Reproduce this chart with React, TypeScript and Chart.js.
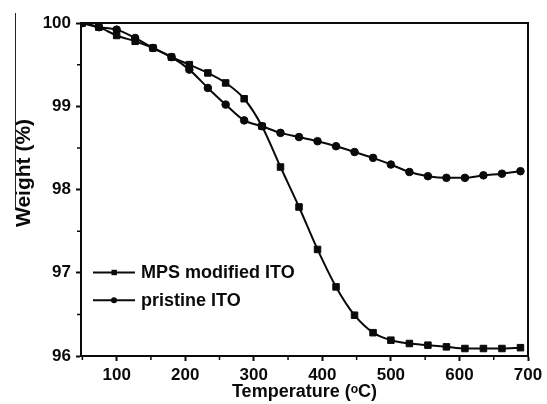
import React, { useEffect, useRef } from 'react';
import { Chart, registerables } from 'chart.js';

Chart.register(...registerables);

const temperatures = [50, 74, 100, 127, 153, 180, 206, 233, 259, 286, 312, 339, 366, 393, 420, 447, 474, 500, 527, 554, 581, 608, 635, 662, 689];
const mpsWeight = [100, 99.95, 99.85, 99.78, 99.7, 99.59, 99.5, 99.4, 99.28, 99.09, 98.76, 98.27, 97.79, 97.28, 96.83, 96.49, 96.28, 96.19, 96.15, 96.13, 96.11, 96.09, 96.09, 96.09, 96.1];
const pristineWeight = [100, 99.95, 99.92, 99.82, 99.7, 99.59, 99.44, 99.22, 99.02, 98.83, 98.76, 98.68, 98.63, 98.58, 98.52, 98.45, 98.38, 98.3, 98.21, 98.16, 98.14, 98.14, 98.17, 98.19, 98.22];
const seriesLabels = ['MPS modified ITO', 'pristine ITO'];
const xTickValues = [100, 200, 300, 400, 500, 600, 700];
const xMinorTicks = [50, 150, 250, 350, 450, 550, 650];
const yTickValues = [96, 97, 98, 99, 100];
const yMinorTicks = [96.5, 97.5, 98.5, 99.5];
const xTitle = 'Temperature (ᵒC)';
const yTitle = 'Weight (%)';

const FONT = '"Liberation Sans", Arial, sans-serif';
const INK = '#0a0a0a';

const decorPlugin = {
  id: 'decor',
  afterDraw(chart: any) {
    const { ctx, chartArea: a, scales } = chart;
    ctx.save();
    // top & right frame
    ctx.strokeStyle = INK;
    ctx.lineWidth = 2;
    ctx.beginPath();
    ctx.moveTo(a.left - 1, a.top);
    ctx.lineTo(a.right, a.top);
    ctx.lineTo(a.right, a.bottom + 1);
    ctx.stroke();
    // minor ticks
    ctx.lineWidth = 1.5;
    ctx.beginPath();
    for (const v of xMinorTicks) {
      const px = scales.x.getPixelForValue(v);
      ctx.moveTo(px, a.bottom);
      ctx.lineTo(px, a.bottom + 4);
    }
    for (const v of yMinorTicks) {
      const py = scales.y.getPixelForValue(v);
      ctx.moveTo(a.left - 4, py);
      ctx.lineTo(a.left, py);
    }
    ctx.stroke();
    // y title
    ctx.fillStyle = INK;
    ctx.font = `bold 21px ${FONT}`;
    ctx.textAlign = 'center';
    ctx.textBaseline = 'middle';
    ctx.translate(24, 173);
    ctx.rotate(-Math.PI / 2);
    ctx.fillText(yTitle, 0, 0);
    ctx.restore();

    // thin scan line at far left
    ctx.save();
    ctx.strokeStyle = '#222';
    ctx.lineWidth = 1;
    ctx.beginPath();
    ctx.moveTo(15.5, 13);
    ctx.lineTo(15.5, 210);
    ctx.stroke();
    ctx.restore();

    // legend
    ctx.save();
    chart.data.datasets.forEach((ds: any, i: number) => {
      const y = 272.5 + i * 27.7;
      ctx.strokeStyle = INK;
      ctx.lineWidth = 2;
      ctx.beginPath();
      ctx.moveTo(93, y);
      ctx.lineTo(135, y);
      ctx.stroke();
      ctx.fillStyle = INK;
      if (ds.pointStyle === 'rect') {
        ctx.fillRect(111.5, y - 2.7, 5.4, 5.4);
      } else {
        ctx.beginPath();
        ctx.arc(114, y, 3, 0, Math.PI * 2);
        ctx.fill();
      }
      ctx.font = `bold 18px ${FONT}`;
      ctx.textAlign = 'left';
      ctx.textBaseline = 'middle';
      ctx.fillText(ds.label, 141, y + 0.5);
    });
    ctx.restore();
  },
};

export default function App() {
  const ref = useRef<HTMLCanvasElement>(null);
  useEffect(() => {
    if (!ref.current) return;
    const tickFont = { family: FONT, size: 17, weight: 'bold' as const };
    const chart = new Chart(ref.current, {
      type: 'line',
      data: {
        datasets: [
          {
            label: seriesLabels[0],
            data: temperatures.map((t, i) => ({ x: t, y: mpsWeight[i] })),
            borderColor: INK,
            backgroundColor: INK,
            borderWidth: 2,
            pointStyle: 'rect',
            pointRadius: 4.6,
            pointBorderWidth: 1,
            pointBackgroundColor: INK,
            pointBorderColor: INK,
            cubicInterpolationMode: 'monotone',
            fill: false,
          },
          {
            label: seriesLabels[1],
            data: temperatures.map((t, i) => ({ x: t, y: pristineWeight[i] })),
            borderColor: INK,
            backgroundColor: INK,
            borderWidth: 2,
            pointStyle: 'circle',
            pointRadius: 3.8,
            pointBorderWidth: 1,
            pointBackgroundColor: INK,
            pointBorderColor: INK,
            cubicInterpolationMode: 'monotone',
            fill: false,
          },
        ],
      },
      options: {
        animation: false,
        responsive: false,
        events: [],
        layout: { padding: { top: 23, right: 19, left: 0, bottom: 0 } },
        plugins: { legend: { display: false }, tooltip: { enabled: false } },
        scales: {
          x: {
            type: 'linear',
            min: 48,
            max: 700,
            afterBuildTicks: (s: any) => {
              s.ticks = xTickValues.map((v) => ({ value: v }));
            },
            afterFit: (s: any) => {
              s.height = 48;
            },
            grid: { drawOnChartArea: false, drawTicks: true, tickLength: 5, tickWidth: 2, tickColor: INK },
            border: { display: true, color: INK, width: 2 },
            ticks: { font: tickFont, color: INK, padding: 4, maxRotation: 0, autoSkip: false },
            title: {
              display: true,
              text: xTitle,
              color: INK,
              font: { family: FONT, size: 18, weight: 'bold' },
              padding: { top: 0, bottom: 1 },
            },
          },
          y: {
            type: 'linear',
            min: 96,
            max: 100,
            afterBuildTicks: (s: any) => {
              s.ticks = yTickValues.map((v) => ({ value: v }));
            },
            afterFit: (s: any) => {
              s.width = 81;
            },
            grid: { drawOnChartArea: false, drawTicks: true, tickLength: 5, tickWidth: 2, tickColor: INK },
            border: { display: true, color: INK, width: 2 },
            ticks: { font: tickFont, color: INK, padding: 5, autoSkip: false },
            title: { display: false },
          },
        },
      },
      plugins: [decorPlugin],
    });
    return () => chart.destroy();
  }, []);
  return (
    <div style={{ position: 'fixed', left: 0, top: 0, width: 547, height: 404, background: '#fff' }}>
      <canvas ref={ref} width={547} height={404} />
    </div>
  );
}
